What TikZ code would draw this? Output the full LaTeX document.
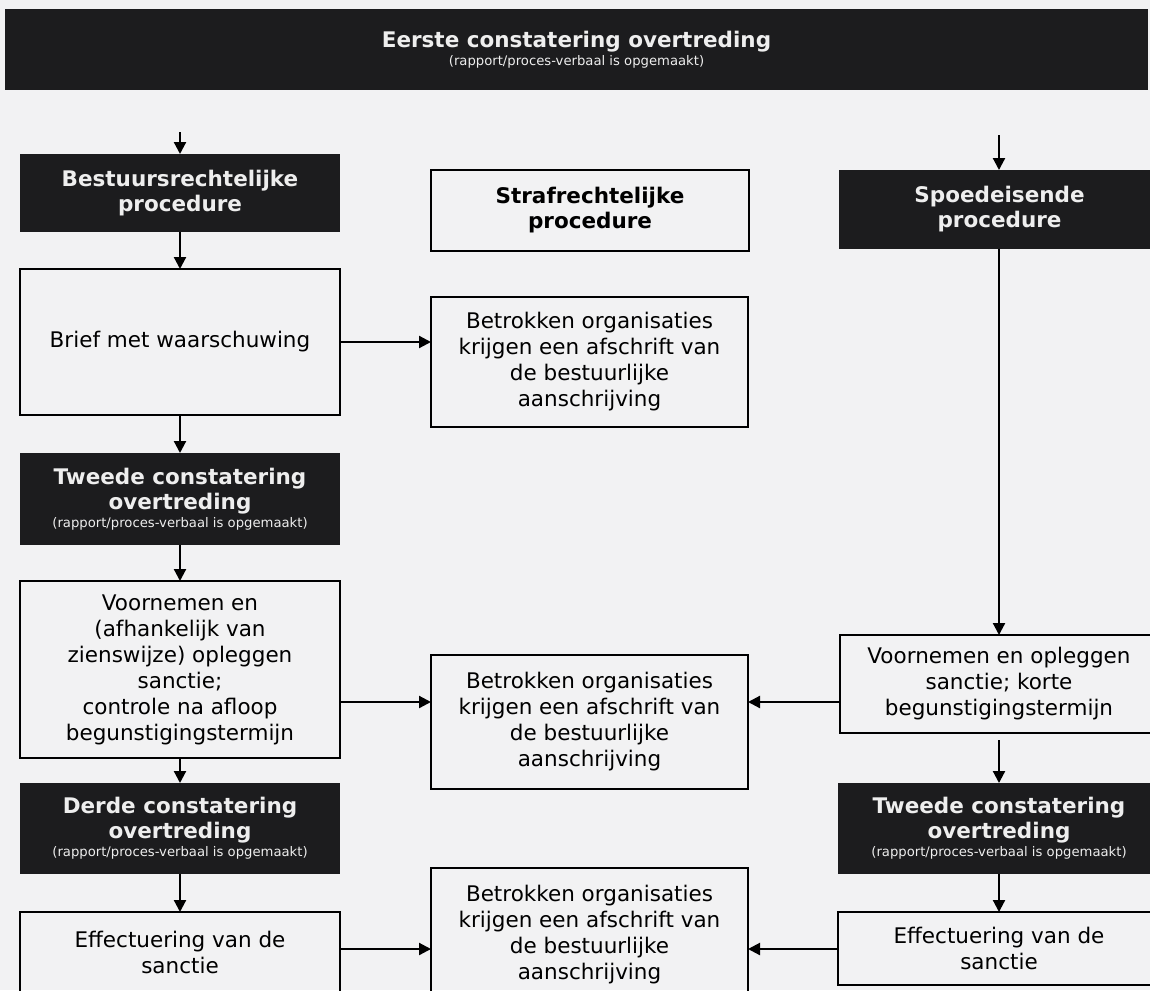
\documentclass[tikz,border=0pt]{standalone}
\usepackage{fontspec}
\setmainfont{DejaVu Sans}
\usetikzlibrary{arrows.meta}
\definecolor{darkfill}{HTML}{1C1C1E}
\definecolor{bgcol}{HTML}{F2F2F3}
\definecolor{lighttext}{HTML}{EEEEEE}
\newcommand{\hfnt}{\fontsize{21.5}{25}\selectfont\bfseries}
\newcommand{\bfnt}{\fontsize{21.5}{26}\selectfont}
\newcommand{\sfnt}{\fontsize{13.2}{16}\selectfont\mdseries}
\tikzset{
  box/.style={anchor=north west, inner sep=0pt, outer sep=0pt, align=center},
  darkbox/.style={box, fill=darkfill, text=lighttext, font=\hfnt},
  headbox/.style={box, draw=black, line width=2.2pt, text=black, font=\hfnt},
  wbox/.style={box, draw=black, line width=2.2pt, text=black, font=\bfnt},
  arr/.style={line width=2.2pt, draw=black, -{Triangle[length=12pt,width=12pt]}},
}
\begin{document}
\begin{tikzpicture}[x=1pt,y=-1pt]
\useasboundingbox (0,0) rectangle (1150,990);
\fill[bgcol] (0,0) rectangle (1150,990);
\clip (0,0) rectangle (1150,990);

% top
\node[darkbox, minimum width=1143pt, minimum height=81pt] (top) at (5,9)
  {Eerste constatering overtreding\\[-7pt]{\sfnt (rapport/proces-verbaal is opgemaakt)}};

% procedures
\node[darkbox, minimum width=320pt, minimum height=78pt] (best) at (20,154)
  {Bestuursrechtelijke\\procedure};
\node[headbox, minimum width=318pt, minimum height=81pt] (straf) at (431,170)
  {Strafrechtelijke\\procedure};
\node[darkbox, minimum width=321pt, minimum height=79pt] (spoed) at (839,170)
  {Spoedeisende\\procedure};

% left column
\node[wbox, minimum width=320pt, minimum height=146pt] (brief) at (20,269)
  {Brief met waarschuwing};
\node[darkbox, minimum width=320pt, minimum height=92pt] (tw1) at (20,453)
  {Tweede constatering\\overtreding\\[-7pt]{\sfnt (rapport/proces-verbaal is opgemaakt)}};
\node[wbox, minimum width=320pt, minimum height=177pt] (vn1) at (20,581)
  {Voornemen en\\(afhankelijk van\\zienswijze) opleggen\\sanctie;\\controle na afloop\\begunstigingstermijn};
\node[darkbox, minimum width=320pt, minimum height=91pt] (d3) at (20,783)
  {Derde constatering\\overtreding\\[-7pt]{\sfnt (rapport/proces-verbaal is opgemaakt)}};
\node[wbox, minimum width=320pt, minimum height=80pt] (ef1) at (20,912)
  {Effectuering van de\\sanctie};

% middle column
\node[wbox, minimum width=317pt, minimum height=130pt] (b1) at (431,297)
  {Betrokken organisaties\\krijgen een afschrift van\\de bestuurlijke\\aanschrijving};
\node[wbox, minimum width=317pt, minimum height=134pt] (b2) at (431,655)
  {Betrokken organisaties\\krijgen een afschrift van\\de bestuurlijke\\aanschrijving};
\node[wbox, minimum width=317pt, minimum height=134pt] (b3) at (431,868)
  {Betrokken organisaties\\krijgen een afschrift van\\de bestuurlijke\\aanschrijving};

% right column
\node[wbox, minimum width=318pt, minimum height=98pt] (vn2) at (840,635)
  {Voornemen en opleggen\\sanctie; korte\\begunstigingstermijn};
\node[darkbox, minimum width=322pt, minimum height=91pt] (tw2) at (838,783)
  {Tweede constatering\\overtreding\\[-7pt]{\sfnt (rapport/proces-verbaal is opgemaakt)}};
\node[wbox, minimum width=322pt, minimum height=73pt] (ef2) at (838,912)
  {Effectuering van de\\sanctie};

% free starts
\coordinate (s1) at (180,132);
\coordinate (s2) at (999,135);
\coordinate (ya) at (0,702);
\coordinate (yb) at (0,949);

% connectors
\draw[arr] (s1) -- (best.north);
\draw[arr] (s2) -- (s2 |- spoed.north);
\draw[arr] (best.south) -- (brief.north);
\draw[arr] (brief.east) -- (b1.west |- brief.east);
\draw[arr] (brief.south) -- (tw1.north);
\draw[arr] (tw1.south) -- (vn1.north);
\draw[arr] (vn1.east |- ya) -- (b2.west |- ya);
\draw[arr] (vn1.south) -- (d3.north);
\draw[arr] (d3.south) -- (ef1.north);
\draw[arr] (ef1.east |- yb) -- (b3.west |- yb);
\draw[arr] (s2 |- spoed.south) -- (vn2.north);
\draw[arr] (vn2.west |- ya) -- (b2.east |- ya);
\draw[arr, shorten <=7pt] (vn2.south) -- (tw2.north);
\draw[arr] (tw2.south) -- (ef2.north);
\draw[arr] (ef2.west |- yb) -- (b3.east |- yb);
\end{tikzpicture}
\end{document}
